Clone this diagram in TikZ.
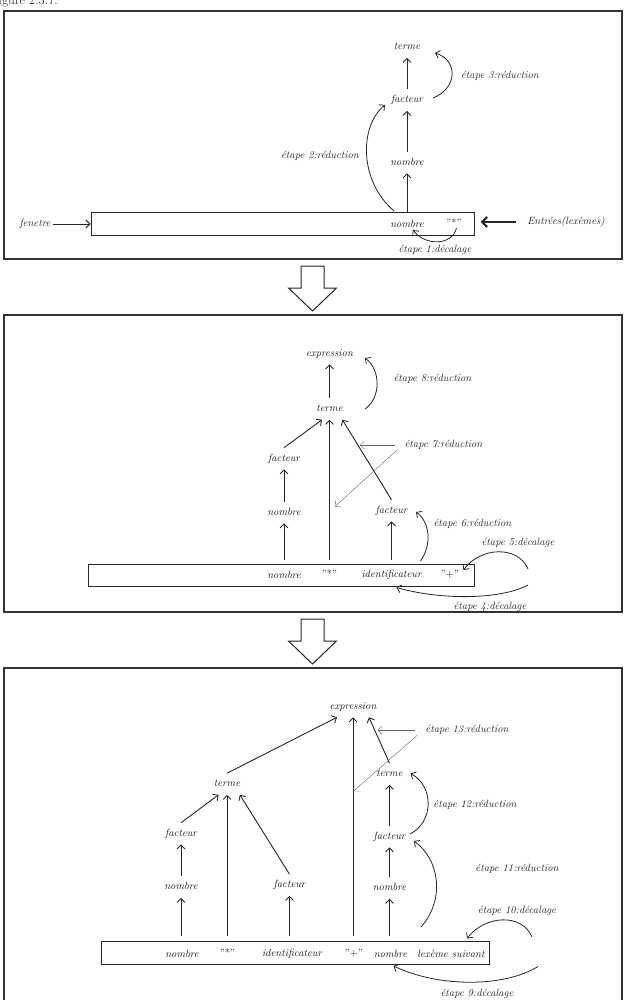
\documentclass[tikz,border=0pt]{standalone}
\usepackage{fontspec}
\usetikzlibrary{arrows.meta}

\begin{document}
\begin{tikzpicture}[x=1pt,y=-1pt,
	>={Straight Barb[length=4pt,width=8pt]},
	cadre/.style={draw=black!80,line width=1.3pt},
	ruban/.style={draw=black!85,line width=1pt,inner sep=0pt},
	tok/.style={font=\itshape\fontsize{10.5}{12}\selectfont,text=black!90,inner sep=1pt},
	sym/.style={font=\upshape\fontsize{10.5}{12}\selectfont,text=black!90,inner sep=1pt},
	nt/.style={font=\itshape\fontsize{10.5}{12}\selectfont,text=black!90,inner sep=2pt,outer xsep=2pt,outer ysep=5pt,text height=1.5ex,text depth=.25ex},
	lab/.style={font=\itshape\fontsize{10.5}{12}\selectfont,text=black!85,inner sep=2pt},
	fl/.style={->,line width=0.9pt,draw=black!85},
	pas/.style={->,line width=0.8pt,draw=black!85},
	fin/.style={->,line width=0.4pt,draw=black!60},
	creux/.style={draw=black!85,line width=1pt,fill=white}]

	\useasboundingbox (0,0) rectangle (626,1000);
	\node[anchor=base west,font=\fontsize{12.5}{14}\selectfont,text=black!80,inner sep=0pt] (titre) at (-5,5) {figure 2.3.7.};

	% fleches entre les cadres
	\foreach \y in {266,619} {
		\draw[creux] (301,\y) -- (324,\y) -- (324,\y+22) -- (336.5,\y+22) -- (312.5,\y+45) -- (288.5,\y+22) -- (301,\y+22) -- cycle;
	}

	% cadre 1
	\draw[cadre] (4,11) rectangle (622,259);
	\node[ruban,minimum width=383pt,minimum height=22.5pt] (ruban1) at (282.5,224) {};
	\node[tok] (r1nb) at (407,224) {nombre};
	\node[sym] (r1mul) at (454,223) {"*"};
	\node[nt] (p1nb) at (407,162.5) {nombre};
	\node[nt] (p1fac) at (407,100) {facteur};
	\node[nt] (p1ter) at (407,47) {terme};
	\node[lab] (fen) at (35,224) {fenetre};
	\node[lab] (ent) at (566,222) {Entrées(lexèmes)};
	\node[lab] (e1) at (435,250) {étape 1:décalage};
	\node[lab] (e2) at (320,156) {étape 2:réduction};
	\node[lab] (e3) at (500,75.5) {étape 3:réduction};

	\draw[fl] (p1nb.south |- ruban1.north) -- (p1nb);
	\draw[fl] (p1nb) -- (p1fac);
	\draw[fl] (p1fac) -- (p1ter);
	\draw[fl] (fen.east) -- (fen.east -| ruban1.west);
	\draw[-{Straight Barb[length=5pt,width=10pt]},line width=2.2pt,draw=black!85,shorten <=9pt,shorten >=6pt] (ent.west) -- (ent.west -| ruban1.east);

	\coordinate (a1) at (456.5,228);
	\coordinate (b1) at (413,230);
	\coordinate (a2) at (394,211);
	\coordinate (b2) at (385,105);
	\coordinate (a3) at (433,98);
	\coordinate (b3) at (435,53);
	\draw[pas] (a1) .. controls (452,246) and (425,246) .. (b1);
	\draw[pas] (a2) .. controls (358,180) and (360,125) .. (b2);
	\draw[pas] (a3) .. controls (458,88) and (458,60) .. (b3);

	% cadre 2
	\draw[cadre] (4,315) rectangle (622,612);
	\node[ruban,minimum width=386pt,minimum height=22.5pt] (ruban2) at (281,575.5) {};
	\node[tok] (r2nb) at (284,575) {nombre};
	\node[sym] (r2mul) at (329.5,574) {"*"};
	\node[tok] (r2id) at (391.5,575) {identificateur};
	\node[sym] (r2plus) at (450,574) {"+"};
	\node[nt] (p2nb) at (284,512.5) {nombre};
	\node[nt] (p2fac) at (284,458.5) {facteur};
	\node[nt] (p2ter) at (329.5,409) {terme};
	\node[nt] (p2exp) at (329.5,353.5) {expression};
	\node[nt] (p2fac2) at (391.5,510.5) {facteur};
	\node[lab] (e4) at (490,607) {étape 4:décalage};
	\node[lab] (e5) at (518,542.5) {étape 5:décalage};
	\node[lab] (e6) at (472.5,524) {étape 6:réduction};
	\node[lab] (e7) at (443.5,445) {étape 7:réduction};
	\node[lab] (e8) at (432.5,379) {étape 8:réduction};

	\foreach \n in {p2nb,p2fac2} {
		\draw[fl,shorten <=4pt] (\n.south |- ruban2.north) -- (\n);
	}
	\draw[fl,shorten <=4pt] (p2ter.south |- ruban2.north) -- (p2ter.south);
	\draw[fl] (p2nb) -- (p2fac);
	\draw[fl] (p2fac.north) -- (p2ter.-125);
	\draw[fl] (p2fac2.north) -- (p2ter.-40);
	\draw[fl] (p2ter) -- (p2exp);

	\coordinate (b7) at (360,445);
	\coordinate (c7) at (335,506.5);
	\draw[fin,shorten <=7pt] (e7.west) -- (b7);
	\draw[fin,shorten <=7pt] (e7.west) -- (c7);

	\coordinate (a4) at (528,585);
	\coordinate (b4) at (396.5,587.5);
	\coordinate (a5) at (528,569);
	\coordinate (b5) at (463.5,570);
	\coordinate (a6) at (420.5,561);
	\coordinate (b6) at (416,512);
	\coordinate (a8) at (365,409);
	\coordinate (b8) at (365,358);
	\draw[pas] (a4) .. controls (500,600) and (440,600) .. (b4);
	\draw[pas] (a5) .. controls (518,545) and (480,547) .. (b5);
	\draw[pas] (a6) .. controls (432,545) and (430,522) .. (b6);
	\draw[pas] (a8) .. controls (381,398) and (381,370) .. (b8);

	% cadre 3
	\draw[cadre] (4,668) rectangle (622,1010);
	\node[ruban,minimum width=387.5pt,minimum height=23pt] (ruban3) at (295.5,953) {};
	\node[tok] (r3nb) at (182,954) {nombre};
	\node[sym] (r3mul) at (227.5,953) {"*"};
	\node[tok] (r3id) at (292,954) {identificateur};
	\node[sym] (r3plus) at (354,953) {"+"};
	\node[tok] (r3nb2) at (390.5,954) {nombre};
	\node[tok] (r3suiv) at (451,954) {lexème suivant};
	\node[nt] (p3nb) at (181,887) {nombre};
	\node[nt] (p3fac) at (289.5,885) {facteur};
	\node[nt] (p3nb2) at (389.5,888) {nombre};
	\node[nt] (p3facg) at (181,833.5) {facteur};
	\node[nt] (p3facd) at (389.5,836.5) {facteur};
	\node[nt] (p3terg) at (227,784) {terme};
	\node[nt] (p3terd) at (389.5,774) {terme};
	\node[nt] (p3exp) at (353,706.5) {expression};
	\node[lab] (e9) at (477,994) {étape 9:décalage};
	\node[lab] (e10) at (517,910.5) {étape 10:décalage};
	\node[lab] (e11) at (517,868.5) {étape 11:réduction};
	\node[lab] (e12) at (475,805) {étape 12:réduction};
	\node[lab] (e13) at (467,730) {étape 13:réduction};

	\foreach \n in {p3nb,p3fac,p3nb2} {
		\draw[fl,shorten <=5pt] (\n.south |- ruban3.north) -- (\n);
	}
	\foreach \n in {p3terg,p3exp} {
		\draw[fl,shorten <=5pt] (\n.south |- ruban3.north) -- (\n.south);
	}
	\draw[fl] (p3nb) -- (p3facg);
	\draw[fl] (p3nb2) -- (p3facd);
	\draw[fl] (p3facd) -- (p3terd);
	\draw[fl] (p3facg.north) -- (p3terg.-128);
	\draw[fl] (p3fac.north) -- (p3terg.-40);
	\draw[fl] (p3terg.north) -- (p3exp.-146);
	\draw[fl] (p3terd.north) -- (p3exp.-34);

	\coordinate (b13) at (377.5,730);
	\coordinate (c13) at (353.5,791);
	\draw[fin,shorten <=8pt] (e13.west) -- (b13);
	\draw[fin,shorten <=8pt] (e13.west) -- (c13);

	\coordinate (a9) at (538,966.5);
	\coordinate (b9) at (393.5,966);
	\coordinate (a10) at (532,937);
	\coordinate (b10) at (467,938.5);
	\coordinate (a11) at (421,927);
	\coordinate (b11) at (414,841);
	\coordinate (a12) at (410,834);
	\coordinate (b12) at (410.5,773.5);
	\draw[pas] (a9) .. controls (505,987) and (440,988) .. (b9);
	\draw[pas] (a10) .. controls (522,913) and (485,915) .. (b10);
	\draw[pas] (a11) .. controls (445,900) and (440,860) .. (b11);
	\draw[pas] (a12) .. controls (434,822) and (434,786) .. (b12);
\end{tikzpicture}
\end{document}
